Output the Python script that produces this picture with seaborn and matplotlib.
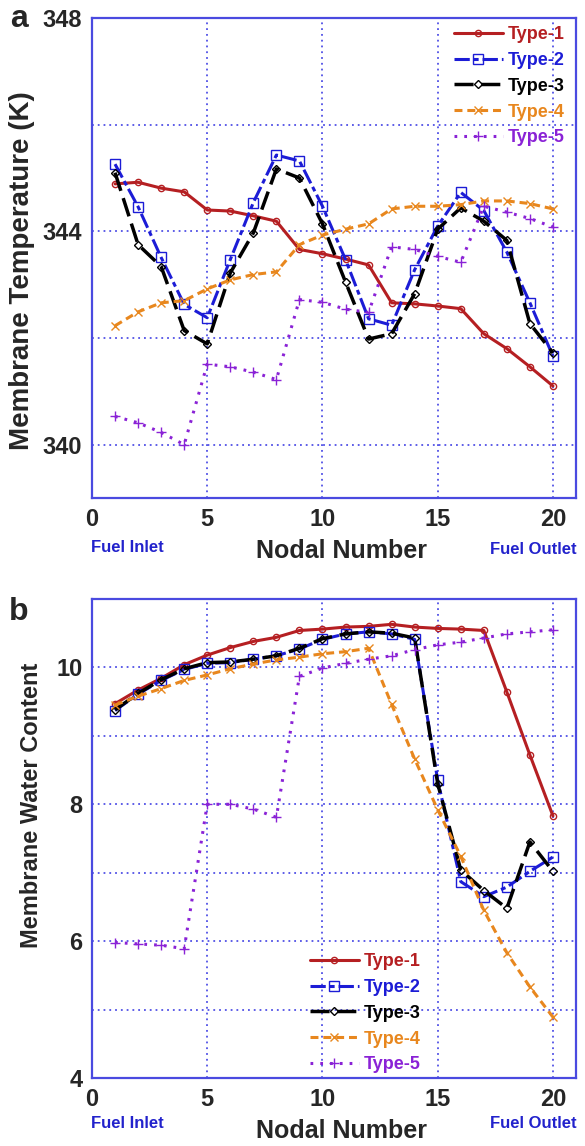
import matplotlib
matplotlib.use("Agg")
import matplotlib.pyplot as plt
import seaborn as sns
import pandas as pd
from matplotlib.ticker import FixedLocator

# ---------------- data ----------------
nodes = list(range(1, 21))
series_names = ["Type-1", "Type-2", "Type-3", "Type-4", "Type-5"]

temp_type1 = [344.89, 344.92, 344.81, 344.74, 344.40, 344.38, 344.29, 344.19, 343.66, 343.58,
              343.48, 343.37, 342.66, 342.64, 342.60, 342.55, 342.08, 341.80, 341.46, 341.10]
temp_type2 = [345.26, 344.46, 343.51, 342.63, 342.38, 343.47, 344.54, 345.43, 345.32, 344.47,
              343.47, 342.36, 342.24, 343.28, 344.10, 344.73, 344.39, 343.61, 342.66, 341.66]
temp_type3 = [345.10, 343.75, 343.34, 342.14, 341.89, 343.22, 343.97, 345.17, 345.00, 344.14,
              343.05, 341.98, 342.08, 342.83, 344.04, 344.44, 344.19, 343.83, 342.27, 341.72]
temp_type4 = [342.23, 342.49, 342.66, 342.70, 342.92, 343.09, 343.19, 343.24, 343.75, 343.93,
              344.04, 344.14, 344.42, 344.47, 344.47, 344.50, 344.57, 344.57, 344.52, 344.42]
temp_type5 = [340.53, 340.41, 340.23, 340.00, 341.51, 341.46, 341.36, 341.22, 342.72, 342.67,
              342.54, 342.48, 343.71, 343.66, 343.53, 343.42, 344.47, 344.36, 344.24, 344.08]

wc_type1 = [9.47, 9.67, 9.84, 10.04, 10.18, 10.29, 10.38, 10.44, 10.54, 10.56,
            10.59, 10.60, 10.63, 10.59, 10.57, 10.56, 10.54, 9.64, 8.72, 7.83]
wc_type2 = [9.37, 9.61, 9.81, 9.97, 10.06, 10.07, 10.12, 10.17, 10.27, 10.41,
            10.49, 10.52, 10.49, 10.41, 8.35, 6.87, 6.65, 6.79, 7.02, 7.23]
wc_type3 = [9.38, 9.62, 9.82, 9.98, 10.07, 10.08, 10.12, 10.17, 10.28, 10.42,
            10.49, 10.52, 10.50, 10.43, 8.30, 7.04, 6.74, 6.48, 7.45, 7.02]
wc_type4 = [9.45, 9.58, 9.69, 9.81, 9.89, 9.98, 10.05, 10.11, 10.15, 10.20,
            10.23, 10.28, 9.46, 8.66, 7.92, 7.24, 6.45, 5.83, 5.33, 4.89]
wc_type5 = [5.98, 5.96, 5.94, 5.89, 8.00, 8.00, 7.93, 7.81, 9.87, 9.99,
            10.06, 10.12, 10.17, 10.26, 10.33, 10.37, 10.43, 10.49, 10.52, 10.55]

x_ticks = [0, 5, 10, 15, 20]
temp_ticks = [340, 344, 348]
temp_minor = [342, 346]
wc_ticks = [4, 6, 8, 10]
wc_minor = [5, 7, 9]

temp_df = pd.DataFrame({"node": nodes * 5,
                        "value": temp_type1 + temp_type2 + temp_type3 + temp_type4 + temp_type5,
                        "type": sum([[n] * 20 for n in series_names], [])})
wc_df = pd.DataFrame({"node": nodes * 5,
                      "value": wc_type1 + wc_type2 + wc_type3 + wc_type4 + wc_type5,
                      "type": sum([[n] * 20 for n in series_names], [])})

# ---------------- styles ----------------
sns.set_theme(style="white")
plt.rcParams["font.family"] = ["Liberation Sans", "DejaVu Sans"]
plt.rcParams["font.weight"] = "bold"

colors = {"Type-1": "#B51F22", "Type-2": "#1C1CD6", "Type-3": "#000000",
          "Type-4": "#E8871E", "Type-5": "#8A22D6"}
markers = {"Type-1": "o", "Type-2": "s", "Type-3": "D", "Type-4": "x", "Type-5": "+"}
msizes = {"Type-1": 4.5, "Type-2": 6.5, "Type-3": 4.5, "Type-4": 5.5, "Type-5": 7}
lstyles = {"Type-1": "-",
           "Type-2": (0, (5, 1.3, 1.6, 1.3)),
           "Type-3": (0, (5.5, 2.2)),
           "Type-4": (0, (2.6, 1.6)),
           "Type-5": (0, (0.9, 2.3))}
lwidths = {"Type-1": 2.2, "Type-2": 2.2, "Type-3": 2.5, "Type-4": 2.2, "Type-5": 2.2}
grid_color = "#5050E6"
spine_color = "#4A4AE0"
label_blue = "#2222CC"

W, H = 585, 1146
fig = plt.figure(figsize=(W / 100, H / 100), dpi=100)


def px(x, y):
    return x / W, 1 - y / H


left, right = 92 / W, 576 / W
ax1 = fig.add_axes([left, 1 - 498 / H, right - left, (498 - 18) / H])
ax2 = fig.add_axes([left, 1 - 1078 / H, right - left, (1078 - 599) / H])


def draw(ax, df):
    for name in series_names:
        sub = df[df["type"] == name]
        sns.lineplot(data=sub, x="node", y="value", ax=ax, color=colors[name],
                     linestyle=lstyles[name], linewidth=lwidths[name], marker=markers[name],
                     markersize=msizes[name], markerfacecolor="none",
                     markeredgecolor=colors[name], markeredgewidth=1.0,
                     label=name, legend=False)


def style_axes(ax, ylim, major, minor):
    ax.set_xlim(0, 21)
    ax.set_ylim(*ylim)
    ax.xaxis.set_major_locator(FixedLocator(x_ticks))
    ax.yaxis.set_major_locator(FixedLocator(major))
    ax.yaxis.set_minor_locator(FixedLocator(minor))
    ax.grid(which="both", color=grid_color, linestyle=(0, (1, 2.2)), linewidth=1.3)
    ax.set_axisbelow(True)
    for s in ax.spines.values():
        s.set_color(spine_color)
        s.set_linewidth(1.6)
    ax.tick_params(which="both", length=0, labelsize=17, pad=7)
    for lab in ax.get_xticklabels() + ax.get_yticklabels():
        lab.set_fontweight("bold")
    ax.set_xlabel("")
    ax.set_ylabel("")


draw(ax1, temp_df)
draw(ax2, wc_df)
style_axes(ax1, (339, 348), temp_ticks, temp_minor)
style_axes(ax2, (4, 11), wc_ticks, wc_minor)


def make_legend(ax, anchor, loc):
    leg = ax.legend(loc=loc, bbox_to_anchor=anchor, bbox_transform=fig.transFigure,
                    frameon=False, handlelength=2.7, handletextpad=0.3,
                    labelspacing=0.49, borderpad=0, borderaxespad=0, numpoints=1,
                    prop={"weight": "bold", "size": 13})
    for t, name in zip(leg.get_texts(), series_names):
        t.set_color(colors[name])
    return leg


make_legend(ax1, px(565, 26), "upper right")
make_legend(ax2, px(310, 953), "upper left")

# axis labels and annotations
fig.text(*px(22, 271), "Membrane Temperature (K)", rotation=90, ha="center", va="center",
         fontsize=20, fontweight="bold")
fig.text(*px(32, 805), "Membrane Water Content", rotation=90, ha="center", va="center",
         fontsize=17, fontweight="bold")
for ytxt, yinlet in [(551, 548), (1131, 1123)]:
    fig.text(*px(342, ytxt), "Nodal Number", ha="center", va="center",
             fontsize=18, fontweight="bold")
    fig.text(*px(127, yinlet), "Fuel Inlet", ha="center", va="center",
             fontsize=12, fontweight="bold", color=label_blue)
    fig.text(*px(533, yinlet + 1), "Fuel Outlet", ha="center", va="center",
             fontsize=12, fontweight="bold", color=label_blue)
fig.text(*px(19, 19), "a", ha="center", va="center", fontsize=23, fontweight="bold")
fig.text(*px(19, 612), "b", ha="center", va="center", fontsize=23, fontweight="bold")

fig.savefig("out.png", dpi=100)
